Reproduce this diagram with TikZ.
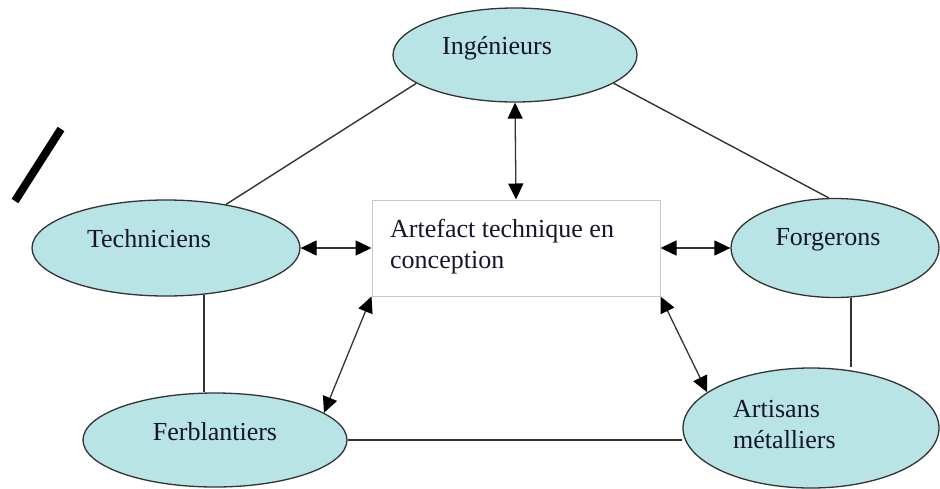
\documentclass[tikz,border=0pt]{standalone}
\usepackage{fontspec}
\setmainfont{Liberation Serif}
\usetikzlibrary{shapes.geometric,arrows.meta,backgrounds}
\definecolor{bubblefill}{HTML}{B8E4E6}
\definecolor{edgecol}{HTML}{333333}
\definecolor{ink}{HTML}{15152E}
\definecolor{boxline}{HTML}{C8C8C8}
\begin{document}
\begin{tikzpicture}[x=1pt,y=-1pt,
  bubble/.style={ellipse,draw=edgecol,line width=1.3pt,fill=bubblefill,inner sep=0pt},
  lbl/.style={font=\fontsize{26}{31}\selectfont,text=ink,inner sep=0pt,anchor=base},
  link/.style={draw=edgecol,line width=1.4pt},
  biarrow/.style={draw=edgecol,line width=1.3pt,{Triangle[length=16pt,width=15pt,fill=black,color=black]}-{Triangle[length=16pt,width=15pt,fill=black,color=black]}}
]
\useasboundingbox (0,0) rectangle (940,488);
% boxes
\node[bubble,minimum width=244pt,minimum height=94pt] (ing) at (515,55) {};
\node[bubble,minimum width=268pt,minimum height=96pt] (tech) at (166,248) {};
\node[bubble,minimum width=208pt,minimum height=99pt] (forg) at (835,248) {};
\node[bubble,minimum width=264pt,minimum height=94pt] (ferb) at (215,440) {};
\node[bubble,minimum width=256pt,minimum height=120pt] (art) at (811,428) {};
\node[draw=boxline,line width=1pt,fill=white,minimum width=288pt,minimum height=96pt,inner sep=0pt] (rect) at (516,248) {};
% texts
\node[lbl] (ingT) at (497,54) {Ingénieurs};
\node[lbl] (techT) at (149,247) {Techniciens};
\node[lbl] (forgT) at (828,245) {Forgerons};
\node[lbl] (ferbT) at (215,440) {Ferblantiers};
\node[lbl,anchor=base west] (artT) at (733,417) {\begin{tabular}[t]{@{}l@{}}Artisans\\métalliers\end{tabular}};
\node[lbl,anchor=base west] (rectT) at (390,237) {\begin{tabular}[t]{@{}l@{}}Artefact technique en\\conception\end{tabular}};
% plain links
\begin{scope}[on background layer]
\draw[link] (ing.196) -- (tech.36);
\draw[link] (ing.-16) -- (forg.97);
\draw[link] (tech.-51) -- (tech.-51 |- ferb.north);
\draw[link] (forg.-72) -- (forg.-72 |- art.north);
\draw[link] (ferb.east) -- (ferb.east -| art.west);
\end{scope}
% two-headed arrows
\draw[biarrow] (ing.south) -- (rect.north);
\draw[biarrow] (tech.east) -- (rect.west);
\draw[biarrow] (rect.east) -- (forg.west);
\draw[biarrow] (rect.south west) -- (ferb.14);
\draw[biarrow] (rect.south east) -- (art.161);
% stray slash mark
\draw[black,line width=8pt] (61,129) -- (15,201);
\end{tikzpicture}
\end{document}
